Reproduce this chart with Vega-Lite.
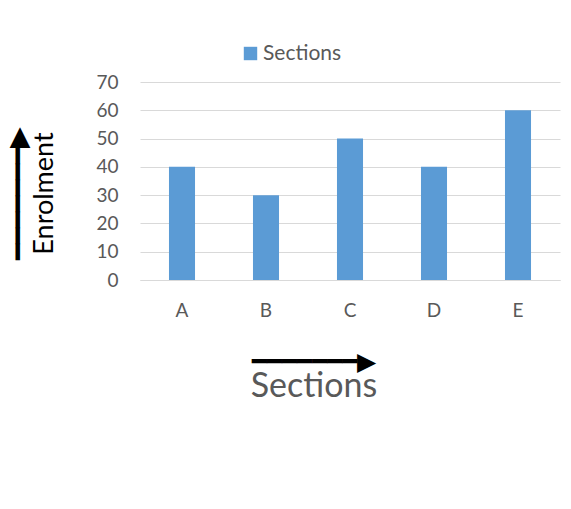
{
  "$schema": "https://vega.github.io/schema/vega-lite/v6.json",
  "width": 420,
  "height": 198,
  "autosize": "none",
  "padding": {"left": 140, "top": 82, "right": 11, "bottom": 229},
  "background": "white",
  "config": {
    "view": {"stroke": null},
    "font": "Lato"
  },
  "title": {
    "text": "━━━━━━━▶",
    "subtitle": "Sections",
    "orient": "bottom",
    "anchor": "middle",
    "dx": -36,
    "offset": 30,
    "font": "DejaVu Sans",
    "fontSize": 25,
    "fontWeight": "normal",
    "color": "#000000",
    "subtitleFont": "Lato",
    "subtitleFontSize": 34,
    "subtitleColor": "#595959",
    "subtitlePadding": -5
  },
  "data": {
    "values": [
      {"section": "A", "enrolment": 40, "series": "Sections"},
      {"section": "B", "enrolment": 30, "series": "Sections"},
      {"section": "C", "enrolment": 50, "series": "Sections"},
      {"section": "D", "enrolment": 40, "series": "Sections"},
      {"section": "E", "enrolment": 60, "series": "Sections"}
    ]
  },
  "mark": {"type": "bar"},
  "encoding": {
    "x": {
      "field": "section",
      "type": "nominal",
      "scale": {"paddingInner": 0.69, "paddingOuter": 0.345},
      "axis": {
        "labelAngle": 0,
        "labelFont": "Lato",
        "labelFontSize": 19,
        "labelColor": "#595959",
        "labelPadding": 21,
        "ticks": false,
        "domainColor": "#d9d9d9",
        "title": null
      }
    },
    "y": {
      "field": "enrolment",
      "type": "quantitative",
      "scale": {"domain": [0, 70]},
      "axis": {
        "values": [0, 10, 20, 30, 40, 50, 60, 70],
        "labelFont": "Lato",
        "labelFontSize": 19,
        "labelColor": "#595959",
        "labelPadding": 22,
        "ticks": false,
        "domain": false,
        "gridColor": "#d9d9d9",
        "title": ["━━━━━━━▶", "Enrolment"],
        "titleFont": "Lato",
        "titleFontSize": 27,
        "titleFontWeight": "normal",
        "titleColor": "#000000",
        "titleLineHeight": 26,
        "titlePadding": 37,
        "titleY": 111
      }
    },
    "color": {
      "field": "series",
      "type": "nominal",
      "scale": {"range": ["#5b9bd5"]},
      "legend": {
        "title": null,
        "orient": "none",
        "legendX": 100,
        "legendY": -39,
        "symbolType": "square",
        "symbolSize": 180,
        "labelFont": "Lato",
        "labelFontSize": 21,
        "labelColor": "#595959",
        "labelOffset": 2
      }
    }
  }
}
